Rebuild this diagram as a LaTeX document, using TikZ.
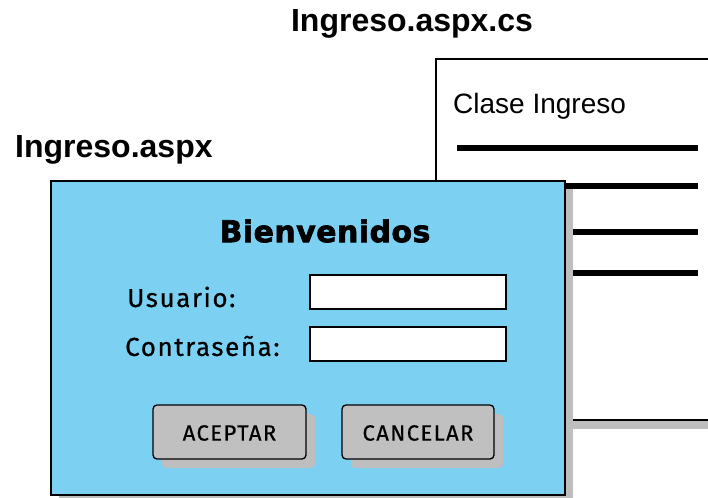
\documentclass[tikz,border=0pt]{standalone}
\usepackage{fontspec}
\setmainfont{Liberation Sans}
\newfontfamily\formfont[LetterSpace=6,FakeBold=0.6]{Fira Sans}
\newfontfamily\btnfont[LetterSpace=6.5,FakeBold=0.6]{Fira Sans}
\newfontfamily\headfont[LetterSpace=1.5,BoldFeatures={FakeBold=2.2}]{DejaVu Sans}
\definecolor{formblue}{RGB}{124,209,242}
\definecolor{btngray}{RGB}{192,192,192}
\definecolor{shadowgray}{RGB}{190,190,190}
\tikzset{
  shadowbox/.style={fill=shadowgray, draw=none},
  fieldbox/.style={draw=black, line width=1.3pt, fill=white},
  btnbox/.style={draw=black, line width=1.3pt, fill=btngray, rounded corners=4pt},
  btnshadow/.style={fill=shadowgray, draw=none, rounded corners=4pt},
  codeline/.style={line width=6pt},
  title/.style={font=\bfseries\fontsize{32}{36}\selectfont, inner sep=0pt},
  formlabel/.style={font=\formfont\fontsize{26}{30}\selectfont, inner sep=0pt, anchor=west},
  btntext/.style={font=\btnfont\fontsize{22}{26}\selectfont}
}
\begin{document}
\begin{tikzpicture}[x=1pt,y=-1pt]
\useasboundingbox (0,0) rectangle (708,497);
\clip (0,0) rectangle (708,497);
% class box (code file)
\fill[shadowgray] (444,67) rectangle (720,429);
\draw[line width=1.3pt, fill=white] (436,59) rectangle (725,420);
\node[anchor=west, font=\fontsize{28}{32}\selectfont, inner sep=0pt] (clase) at (453,106) {Clase Ingreso};
\coordinate (l1a) at (457,148); \coordinate (l1b) at (698,148);
\coordinate (l2a) at (540,186); \coordinate (l2b) at (698,186);
\coordinate (l3a) at (540,232); \coordinate (l3b) at (698,232);
\coordinate (l4a) at (540,273); \coordinate (l4b) at (698,273);
\draw[codeline] (l1a) -- (l1b);
\draw[codeline] (l2a) -- (l2b);
\draw[codeline] (l3a) -- (l3b);
\draw[codeline] (l4a) -- (l4b);
% titles
\node[title] (tcs) at (412,24) {Ingreso.aspx.cs};
\node[title, anchor=west] (taspx) at (15,150) {Ingreso.aspx};
% form
\fill[shadowgray] (59,189) rectangle (573,505);
\draw[line width=1.3pt, fill=formblue] (51,181) rectangle (565,495);
\node[font=\headfont\bfseries\fontsize{30}{34}\selectfont, inner sep=0pt] (bien) at (325,231) {Bienvenidos};
\node[formlabel] (usu) at (127,297) {Usuario:};
\node[formlabel] (con) at (125,346) {Contraseña:};
\draw[fieldbox] (310,275) rectangle (506,309);
\node (f1) at (408,292) {};
\draw[fieldbox] (310,327) rectangle (506,361);
\node (f2) at (408,344) {};
% buttons
\fill[btnshadow] (162,414) rectangle (315,468);
\fill[btnshadow] (351,414) rectangle (503,468);
\draw[btnbox] (153,405) rectangle (306,459);
\draw[btnbox] (342,405) rectangle (494,459);
\node[btntext] (acep) at (229.5,433) {ACEPTAR};
\node[btntext] (canc) at (418,433) {CANCELAR};
\end{tikzpicture}
\end{document}
